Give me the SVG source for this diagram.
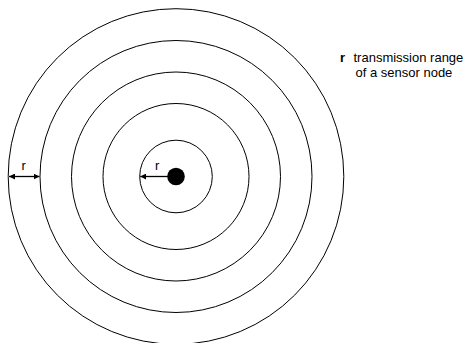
<svg xmlns="http://www.w3.org/2000/svg" width="471" height="343" viewBox="0 0 471 343">
<style>
.ring{fill:none;stroke:#000;stroke-width:1}
.lbl{font-family:"Liberation Sans",Arial,sans-serif;font-size:13px;fill:#000}
.conn{stroke:#000;stroke-width:1.3;fill:none}
</style>
<defs>
<marker id="ah" viewBox="0 0 10 10" refX="10" refY="5" markerWidth="6" markerHeight="6" markerUnits="userSpaceOnUse" orient="auto-start-reverse">
<path d="M0,0 L10,5 L0,10 z" fill="#000"/>
</marker>
</defs>
<rect width="471" height="343" fill="#fff"/>
<g id="rings">
<circle id="ring5" class="ring" cx="176" cy="176.5" r="167.8"/>
<circle id="ring4" class="ring" cx="176" cy="176.5" r="136"/>
<circle id="ring3" class="ring" cx="176" cy="176.5" r="104.5"/>
<circle id="ring2" class="ring" cx="176" cy="176.5" r="73"/>
<circle id="ring1" class="ring" cx="176" cy="176.5" r="36.3"/>
</g>
<g id="sensor"><circle cx="176" cy="176.5" r="8.8" fill="#000"/></g>
<g id="connectors">
<line class="conn" x1="9" y1="176.5" x2="39.5" y2="176.5" marker-start="url(#ah)" marker-end="url(#ah)"/>
<line class="conn" x1="170" y1="176.5" x2="140.2" y2="176.5" marker-end="url(#ah)"/>
</g>
<g id="labels">
<text class="lbl" x="21.5" y="170">r</text>
<text class="lbl" x="155" y="170">r</text>
</g>
<g id="legend">
<text class="lbl" x="340" y="62"><tspan font-weight="bold">r</tspan> <tspan x="353.5">transmission range</tspan></text>
<text class="lbl" x="355.5" y="77">of a sensor node</text>
</g>
</svg>
